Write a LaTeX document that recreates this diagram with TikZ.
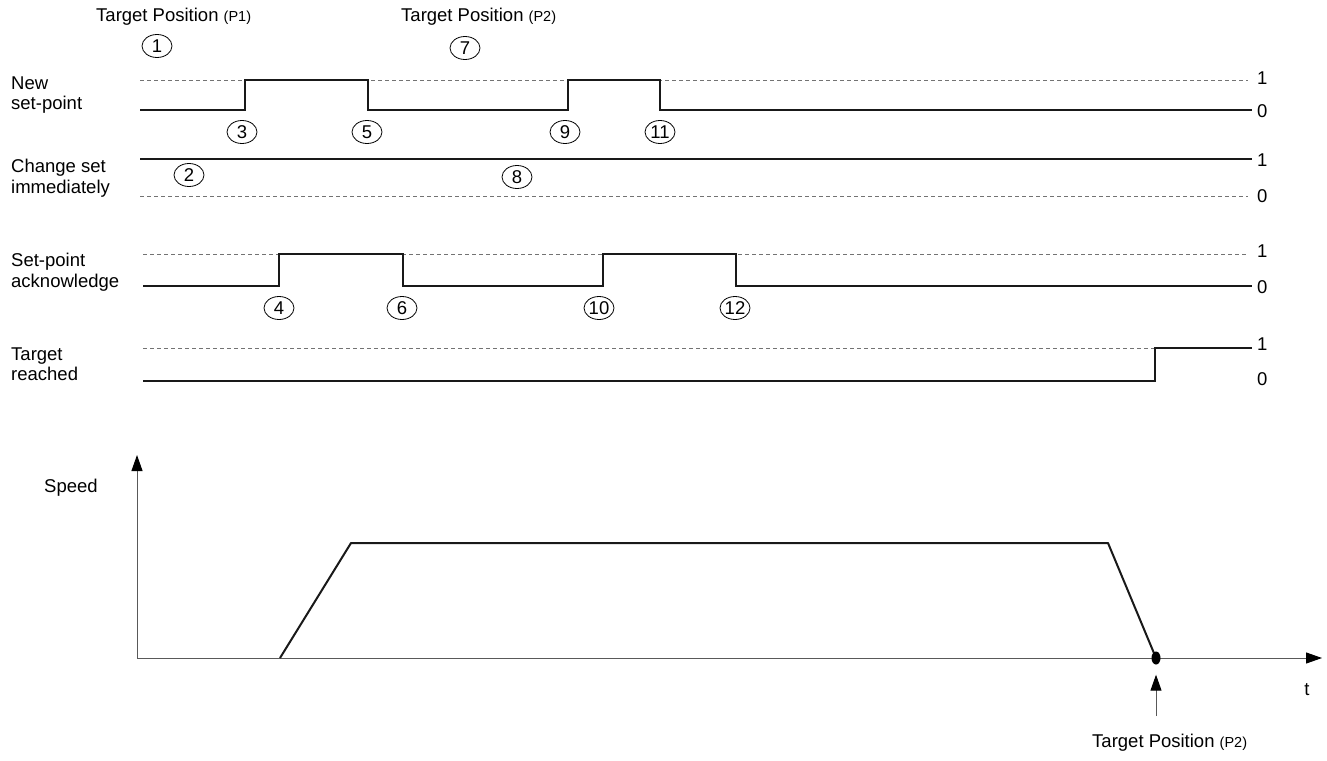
\documentclass[tikz,border=0pt]{standalone}
\usepackage{fontspec}
\setmainfont{Liberation Sans}
\usetikzlibrary{arrows.meta,shapes.geometric}
\begin{document}
\begin{tikzpicture}[x=1pt,y=-1pt,
  txt/.style={font=\fontsize{18.5}{20.5}\selectfont, inner sep=0pt, align=left},
  sig/.style={line width=2pt, color=black!90},
  refl/.style={line width=0.8pt, color=black!55, dash pattern=on 4pt off 3pt},
  circ/.style={ellipse, draw, line width=0.8pt, minimum width=30pt, minimum height=23pt, inner sep=0pt, font=\fontsize{18.5}{20}\selectfont},
  axisl/.style={line width=1pt, color=black!65},
  tip/.style={-{Triangle[length=16pt,width=11pt,color=black]}}
]
\useasboundingbox (0,0) rectangle (1327,760);

% titles
\node[txt, anchor=west] (tp1) at (96,17) {Target Position {\fontsize{14.5}{16}\selectfont (P1)}};
\node[txt, anchor=west] (tp2) at (401,17) {Target Position {\fontsize{14.5}{16}\selectfont (P2)}};

% row labels
\node[txt, anchor=west] (l1) at (11,95) {New\\set-point};
\node[txt, anchor=west] (l2) at (11,178) {Change set\\immediately};
\node[txt, anchor=west] (l3) at (11,272) {Set-point\\acknowledge};
\node[txt, anchor=west] (l4) at (11,364) {Target\\reached};

% row 1: New set-point
\draw[refl] (140,80) -- (1248,80);
\draw[sig] (140,110) -- (245,110) -- (245,80) -- (368,80) -- (368,110) -- (568,110) -- (568,80) -- (660,80) -- (660,110) -- (1252,110);
\node[txt, anchor=west] (r1h) at (1257,78) {1};
\node[txt, anchor=west] (r1l) at (1257,111) {0};

% row 2: Change set immediately
\draw[sig] (140,159) -- (1252,159);
\draw[refl] (140,196) -- (1248,196);
\node[txt, anchor=west] (r2h) at (1257,160) {1};
\node[txt, anchor=west] (r2l) at (1257,196) {0};

% row 3: Set-point acknowledge
\draw[refl] (143,254) -- (1248,254);
\draw[sig] (143,286) -- (279,286) -- (279,254) -- (403,254) -- (403,286) -- (603,286) -- (603,254) -- (736,254) -- (736,286) -- (1252,286);
\node[txt, anchor=west] (r3h) at (1257,251) {1};
\node[txt, anchor=west] (r3l) at (1257,287) {0};

% row 4: Target reached
\draw[refl] (143,348) -- (1248,348);
\draw[sig] (143,381) -- (1155,381) -- (1155,348) -- (1252,348);
\node[txt, anchor=west] (r4h) at (1257,344) {1};
\node[txt, anchor=west] (r4l) at (1257,379) {0};

% circled numbers
\node[circ] (c1) at (157,46) {1};
\node[circ] (c2) at (189,175) {2};
\node[circ] (c3) at (242,132) {3};
\node[circ] (c4) at (279,308) {4};
\node[circ] (c5) at (367,132) {5};
\node[circ] (c6) at (402,308) {6};
\node[circ] (c7) at (465,48) {7};
\node[circ] (c8) at (517,177) {8};
\node[circ] (c9) at (565,132) {9};
\node[circ] (c10) at (599,308) {10};
\node[circ] (c11) at (660,132) {11};
\node[circ] (c12) at (735,308) {12};

% speed graph
\coordinate (orig) at (137,658);
\coordinate (ytop) at (137,455);
\coordinate (xend) at (1322,658);
\draw[axisl, tip] (orig) -- (ytop);
\draw[axisl, tip] (orig) -- (xend);
\node[txt, anchor=west] (speed) at (44,488) {Speed};
\node[txt] (tlab) at (1307,690) {t};

\draw[sig, line join=round] (280,658) -- (351,543) -- (1108,543) -- (1156,658);
\node[ellipse, fill=black, minimum width=9pt, minimum height=13pt, inner sep=0pt] (dot) at (1156,658) {};

\coordinate (abase) at (1156,716);
\draw[axisl, tip, shorten >=10pt] (abase) -- (dot);
\node[txt, anchor=west] (tp3) at (1092,743) {Target Position {\fontsize{14.5}{16}\selectfont (P2)}};
\end{tikzpicture}
\end{document}
